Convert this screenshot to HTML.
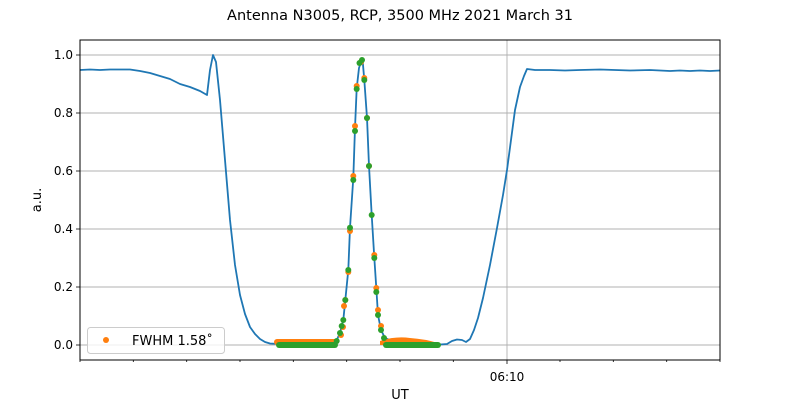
<!DOCTYPE html>
<html><head><meta charset="utf-8"><style>
body{margin:0;background:#fff}
svg{font-family:"DejaVu Sans","Liberation Sans",sans-serif;display:block}
</style></head><body>
<svg width="800" height="400" viewBox="0 0 800 400">
<rect width="800" height="400" fill="#fff"/>
<text x="400" y="20" font-size="14.5" text-anchor="middle">Antenna N3005, RCP, 3500 MHz 2021 March 31</text>
<g stroke="#b0b0b0" stroke-width="0.9">
<line x1="80" x2="720" y1="345" y2="345"/><line x1="80" x2="720" y1="287" y2="287"/>
<line x1="80" x2="720" y1="229" y2="229"/><line x1="80" x2="720" y1="171" y2="171"/>
<line x1="80" x2="720" y1="113" y2="113"/><line x1="80" x2="720" y1="55" y2="55"/>
<line x1="507" x2="507" y1="40" y2="360"/>
</g>
<polyline fill="none" stroke="#1f77b4" stroke-width="1.8" stroke-linejoin="round" points="80,70 90,69.5 100,70 110,69.5 120,69.5 130,69.5 140,71 150,73 160,76 170,79 180,84 190,87 200,91 207,95 210,70 213,55 216,62 220,100 225,160 230,220 235,265 240,295 245,314 250,327 255,334 260,339 265,342 270,343.5 280,344 290,344 300,344 320,344 330,343.5 336.7,340 340,333 343.3,320 345.3,300 348.3,270 350,227.7 353.3,178 355,128 356.7,88.3 359,68 361.7,60 362.5,59 364.3,80 367,117.7 369,166 371.7,215 374.3,257.7 376.3,288 378,315 381,330 385,338 393.3,341.7 400,342 410,341.5 420,342 430,343 440,344.5 447,344 452,341 457,339.5 462,340 466,342 470,339 474,330 478,318 483,298 490,265 497,228 503,195 507,170 511,140 515,110 520,87 524,76 527,69 535,70 550,70 565,70.5 580,70 600,69.5 615,70 630,70.5 650,70 660,70.5 670,71 680,70.5 690,71 700,70.5 710,71 720,70.5"/>
<g fill="#ff7f0e">
<rect x="274" y="339" width="64" height="6" rx="3"/>
<path d="M380,345 L380,341 Q395,336 410,338 Q425,339 438,343 L438,346 Z"/>
<circle cx="345.3" cy="300" r="3"/><circle cx="348.3" cy="272" r="3"/><circle cx="350" cy="231" r="3"/><circle cx="353.3" cy="176" r="3"/><circle cx="355" cy="126" r="3"/><circle cx="356.7" cy="86" r="3"/><circle cx="361" cy="62" r="3"/><circle cx="364.3" cy="78" r="3"/><circle cx="367" cy="118" r="3"/><circle cx="369" cy="166" r="3"/><circle cx="374.3" cy="255" r="3"/><circle cx="376.3" cy="288" r="3"/><circle cx="378" cy="310" r="3"/><circle cx="381" cy="326" r="3"/><circle cx="344" cy="306" r="3"/><circle cx="343" cy="327" r="3"/><circle cx="341" cy="335" r="3"/>
</g>
<g fill="#2ca02c">
<rect x="276" y="342" width="62" height="6" rx="3"/>
<rect x="383" y="342" width="58" height="6" rx="3"/>
<circle cx="336.7" cy="341" r="3"/><circle cx="340" cy="333" r="3"/><circle cx="341.7" cy="326" r="3"/><circle cx="343.3" cy="320" r="3"/><circle cx="345.3" cy="300" r="3"/><circle cx="348.3" cy="270" r="3"/><circle cx="350" cy="227.7" r="3"/><circle cx="353.3" cy="180" r="3"/><circle cx="355" cy="131" r="3"/><circle cx="356.7" cy="89" r="3"/><circle cx="359.5" cy="63" r="3"/><circle cx="362" cy="60" r="3"/><circle cx="364.3" cy="80" r="3"/><circle cx="367" cy="118" r="3"/><circle cx="369" cy="166" r="3"/><circle cx="371.7" cy="215" r="3"/><circle cx="374.3" cy="258" r="3"/><circle cx="376.3" cy="292" r="3"/><circle cx="378" cy="315" r="3"/><circle cx="381" cy="330" r="3"/><circle cx="384" cy="338" r="3"/>
</g>
<rect x="80" y="40" width="640" height="320" fill="none" stroke="#000" stroke-width="1"/>
<g stroke="#000" stroke-width="0.8">
<line x1="76" x2="80" y1="345" y2="345"/><line x1="76" x2="80" y1="287" y2="287"/><line x1="76" x2="80" y1="229" y2="229"/><line x1="76" x2="80" y1="171" y2="171"/><line x1="76" x2="80" y1="113" y2="113"/><line x1="76" x2="80" y1="55" y2="55"/>
<line x1="80" x2="80" y1="360" y2="362"/><line x1="133.3" x2="133.3" y1="360" y2="362"/><line x1="186.7" x2="186.7" y1="360" y2="362"/><line x1="240" x2="240" y1="360" y2="362"/><line x1="293.3" x2="293.3" y1="360" y2="362"/><line x1="346.7" x2="346.7" y1="360" y2="362"/><line x1="400" x2="400" y1="360" y2="362"/><line x1="453.3" x2="453.3" y1="360" y2="362"/><line x1="507" x2="507" y1="360" y2="364"/><line x1="560" x2="560" y1="360" y2="362"/><line x1="613.3" x2="613.3" y1="360" y2="362"/><line x1="666.7" x2="666.7" y1="360" y2="362"/><line x1="720" x2="720" y1="360" y2="362"/>
</g>
<g font-size="12" text-anchor="end">
<text x="73" y="349">0.0</text><text x="73" y="291">0.2</text><text x="73" y="233">0.4</text><text x="73" y="175">0.6</text><text x="73" y="117">0.8</text><text x="73" y="59">1.0</text>
</g>
<text x="507" y="381" font-size="12" text-anchor="middle">06:10</text>
<text x="400" y="399" font-size="13" text-anchor="middle">UT</text>
<text transform="translate(41,200) rotate(-90)" font-size="13" text-anchor="middle">a.u.</text>
<rect x="87.5" y="327.5" width="137" height="26" rx="3" fill="#fff" fill-opacity="0.8" stroke="#ccc"/>
<circle cx="106" cy="340" r="3" fill="#ff7f0e"/>
<text x="132" y="345" font-size="13">FWHM 1.58˚</text>
</svg>
</body></html>
